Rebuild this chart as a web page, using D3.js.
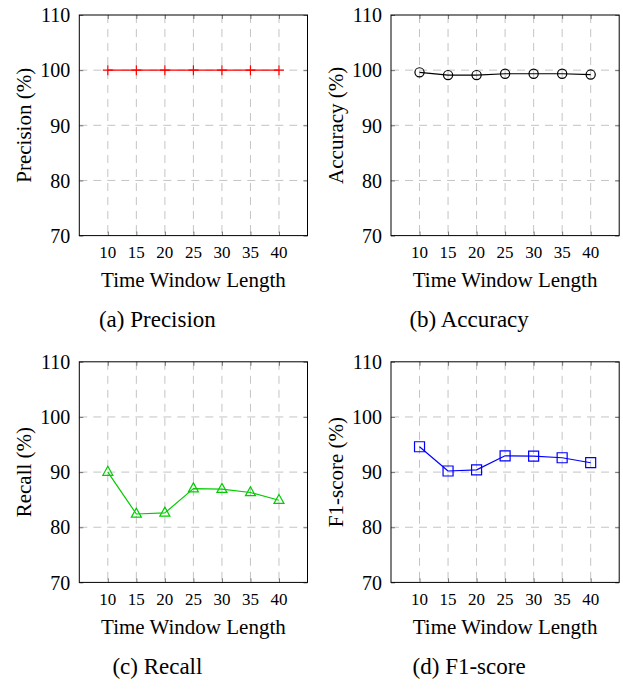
<!DOCTYPE html>
<html>
<head>
<meta charset="utf-8">
<script src="https://cdn.jsdelivr.net/npm/d3@7"></script>
<style>
  body { margin: 0; background: #fff; }
</style>
</head>
<body>
<svg id="chart" width="623" height="694"></svg>
<script>
var windowLengths = [10, 15, 20, 25, 30, 35, 40];
var yTicks = [70, 80, 90, 100, 110];

var precision = [100, 100, 100, 100, 100, 100, 100];
var accuracy = [99.6, 99.1, 99.1, 99.35, 99.35, 99.35, 99.2];
var recall = [90.0, 82.4, 82.6, 87.0, 86.9, 86.3, 84.9];
var f1score = [94.6, 90.2, 90.4, 92.95, 92.9, 92.6, 91.7];

var panels = [
  {values: precision, color: "#ff0000", mark: "plus",     ylabel: "Precision (%)", caption: "(a) Precision", left: 79.3, top: 15},
  {values: accuracy,  color: "#000000", mark: "circle",   ylabel: "Accuracy (%)",  caption: "(b) Accuracy",  left: 391,  top: 15},
  {values: recall,    color: "#00cc00", mark: "triangle", ylabel: "Recall (%)",    caption: "(c) Recall",    left: 79.3, top: 361.8},
  {values: f1score,   color: "#0000ff", mark: "square",   ylabel: "F1-score (%)",  caption: "(d) F1-score",  left: 391,  top: 361.8}
];

var serif = "'Liberation Serif', 'DejaVu Serif', serif";
var width = 228.2, height = 220.6;
var svg = d3.select("#chart").attr("font-family", serif);

panels.forEach(function(p) {
  var g = svg.append("g").attr("transform", "translate(" + p.left + "," + p.top + ")");

  var x = d3.scaleLinear().domain([5, 45]).range([0, width]);
  var y = d3.scaleLinear().domain([70, 110]).range([height, 0]);

  var data = windowLengths.map(function(d, i) { return {len: d, v: p.values[i]}; });

  // grid
  g.append("g")
    .selectAll("line")
    .data(windowLengths)
    .enter().append("line")
      .attr("x1", function(d) { return x(d); })
      .attr("x2", function(d) { return x(d); })
      .attr("y1", 0)
      .attr("y2", height)
      .attr("stroke", "#c4c4c4")
      .attr("stroke-width", 1)
      .attr("stroke-dasharray", "8,6");

  g.append("g")
    .selectAll("line")
    .data(yTicks.slice(1, -1))
    .enter().append("line")
      .attr("x1", 0)
      .attr("x2", width)
      .attr("y1", function(d) { return y(d); })
      .attr("y2", function(d) { return y(d); })
      .attr("stroke", "#c4c4c4")
      .attr("stroke-width", 1)
      .attr("stroke-dasharray", "8,6");

  // inner ticks on all sides
  g.append("g")
    .call(d3.axisBottom(x).tickValues(windowLengths).tickSize(-4).tickFormat(""))
    .attr("transform", "translate(0," + height + ")");
  g.append("g")
    .call(d3.axisTop(x).tickValues(windowLengths).tickSize(-4).tickFormat(""));
  g.append("g")
    .call(d3.axisLeft(y).tickValues(yTicks).tickSize(-4).tickFormat(""));
  g.append("g")
    .attr("transform", "translate(" + width + ",0)")
    .call(d3.axisRight(y).tickValues(yTicks).tickSize(-4).tickFormat(""));
  g.selectAll(".domain").remove();
  g.selectAll(".tick line").attr("stroke", "#777");

  // frame
  g.append("rect")
    .attr("width", width)
    .attr("height", height)
    .attr("fill", "none")
    .attr("stroke", "#000")
    .attr("stroke-width", 1);

  // tick labels
  g.selectAll(".xlab")
    .data(windowLengths)
    .enter().append("text")
      .attr("class", "xlab")
      .attr("x", function(d) { return x(d); })
      .attr("y", height + 22.3)
      .attr("text-anchor", "middle")
      .attr("font-family", serif)
      .attr("font-size", 17)
      .text(function(d) { return d; });

  g.selectAll(".ylab")
    .data(yTicks)
    .enter().append("text")
      .attr("class", "ylab")
      .attr("x", -9)
      .attr("y", function(d) { return y(d); })
      .attr("dy", "0.36em")
      .attr("text-anchor", "end")
      .attr("font-family", serif)
      .attr("font-size", 20)
      .text(function(d) { return d; });

  g.append("text")
    .attr("x", width / 2)
    .attr("y", height + 51.6)
    .attr("text-anchor", "middle")
    .attr("font-family", serif)
    .attr("font-size", 21)
    .text("Time Window Length");

  g.append("text")
    .attr("transform", "translate(-48," + (height / 2) + ") rotate(-90)")
    .attr("text-anchor", "middle")
    .attr("font-family", serif)
    .attr("font-size", 21)
    .text(p.ylabel);

  g.append("text")
    .attr("x", width / 2 - 36)
    .attr("y", height + 91.5)
    .attr("text-anchor", "middle")
    .attr("font-family", serif)
    .attr("font-size", 23)
    .text(p.caption);

  // series
  var line = d3.line()
    .x(function(d) { return x(d.len); })
    .y(function(d) { return y(d.v); });

  g.append("path")
    .datum(data)
    .attr("fill", "none")
    .attr("stroke", p.color)
    .attr("stroke-width", 1.2)
    .attr("stroke-linejoin", "round")
    .attr("d", line);

  var marks = g.selectAll(".mark")
    .data(data)
    .enter().append("path")
      .attr("class", "mark")
      .attr("transform", function(d) { return "translate(" + x(d.len) + "," + y(d.v) + ")"; })
      .attr("fill", "none")
      .attr("stroke", p.color)
      .attr("stroke-width", 1.2);

  if (p.mark == "plus") {
    marks.attr("d", "M-5,0H5M0,-5V5");
  } else if (p.mark == "circle") {
    marks.attr("d", d3.symbol().type(d3.symbolCircle).size(Math.PI * 4.6 * 4.6));
  } else if (p.mark == "square") {
    marks.attr("d", "M-5,-5H5V5H-5Z");
  } else {
    marks.attr("d", "M0,-5.8L5,3.2H-5Z");
  }
});
</script>
</body>
</html>
